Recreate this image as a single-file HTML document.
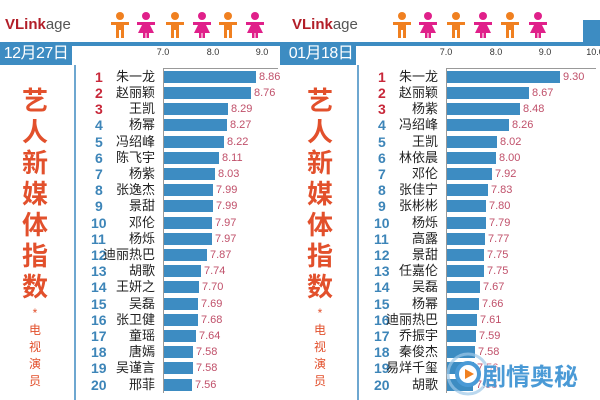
<!DOCTYPE html>
<html><head><meta charset="utf-8"><style>
body{margin:0;width:600px;height:400px;overflow:hidden;background:#fff;font-family:"Liberation Sans","Noto Sans CJK SC",sans-serif;position:relative}
.a{position:absolute}
.logo{font-size:15px;font-weight:bold;color:#b21e28;top:16px}
.logo span{font-weight:normal;color:#555}
.date{background:#3d8cc2;color:#fff;font-size:16px;height:23px;line-height:23px;top:42px;text-align:center;white-space:nowrap;letter-spacing:-0.5px;overflow:hidden}
.bar{background:#3d8cc2;height:4px;top:42px}
.vl{background:#6ea7d0;width:2px;top:65px;height:335px}
.big{color:#e2502c;font-size:26px;width:40px;text-align:center;line-height:31px;top:86px;font-weight:bold}
.small{color:#e2502c;font-size:12px;width:40px;text-align:center;line-height:17px;top:305px}
.tk{font-size:9px;color:#333;top:47px;width:30px;text-align:center}
.ax{background:#999;height:1px;top:68px}
.ay{background:#999;width:1px;top:68px;height:325px}
.r{position:absolute;height:16px;font-size:13px;line-height:16px}
.r .n{position:absolute;width:22px;font-weight:bold;color:#3d85b8;font-size:14px}
.r .n.t{color:#c8283a}
.r .m{position:absolute;width:70px;text-align:right;color:#222}
.r .b{position:absolute;top:2px;height:12px;background:#3d8cc2}
.r .v{position:absolute;color:#c0506a;font-size:11px}
</style></head><body>
<div class="a logo" style="left:5px">VLink<span>age</span></div>
<div class="a logo" style="left:292px">VLink<span>age</span></div>
<svg class="a" style="left:0;top:0" width="600" height="42">
<defs>
<g id="bo" fill="#f08020"><circle cx="0" cy="4" r="4"/><path d="M-9 10 L9 10 L9 13 L4 13 L4 26 L1 26 L1 18 L-1 18 L-1 26 L-4 26 L-4 13 L-9 13Z"/></g>
<g id="gi" fill="#e0208a"><circle cx="0" cy="4" r="4"/><path d="M-9 10 L9 10 L9 13 L4 13 L8 21 L3 21 L3 26 L0.5 26 L0.5 21 L-0.5 21 L-0.5 26 L-3 26 L-3 21 L-8 21 L-4 13 L-9 13Z"/></g>
</defs>
<use href="#bo" x="120" y="12"/><use href="#gi" x="146" y="12"/><use href="#bo" x="175" y="12"/><use href="#gi" x="202" y="12"/><use href="#bo" x="228" y="12"/><use href="#gi" x="255" y="12"/>
<use href="#bo" x="402" y="12"/><use href="#gi" x="428" y="12"/><use href="#bo" x="456" y="12"/><use href="#gi" x="483" y="12"/><use href="#bo" x="510" y="12"/><use href="#gi" x="538" y="12"/>
</svg>
<div class="a" style="left:583px;top:20px;width:17px;height:22px;background:#3d8cc2"></div>
<div class="a bar" style="left:0;width:600px"></div>
<div class="a date" style="left:0;width:72px">12月27日</div>
<div class="a date" style="left:286px;width:70px">01月18日</div>
<div class="a" style="left:280px;top:46px;width:8px;height:19px;background:#3d8cc2"></div>
<div class="a vl" style="left:74px"></div>
<div class="a vl" style="left:357px"></div>
<div class="a big" style="left:15px">艺<br>人<br>新<br>媒<br>体<br>指<br>数</div>
<div class="a small" style="left:15px">*<br>电<br>视<br>演<br>员</div>
<div class="a big" style="left:300px">艺<br>人<br>新<br>媒<br>体<br>指<br>数</div>
<div class="a small" style="left:300px">*<br>电<br>视<br>演<br>员</div>
<div class="a tk" style="left:148px">7.0</div><div class="a tk" style="left:198px">8.0</div><div class="a tk" style="left:247px">9.0</div>
<div class="a tk" style="left:431px">7.0</div><div class="a tk" style="left:481px">8.0</div><div class="a tk" style="left:530px">9.0</div><div class="a tk" style="left:580px">10.0</div>
<div class="a ax" style="left:163px;width:115px"></div><div class="a ay" style="left:163px"></div>
<div class="a ax" style="left:446px;width:150px"></div><div class="a ay" style="left:446px"></div>

<div style="position:absolute;left:0;top:0">
<div class="r" style="top:69px"><span class="n t" style="left:95px">1</span><span class="m" style="left:85px">朱一龙</span><span class="b" style="left:164px;width:92px"></span><span class="v" style="left:259px">8.86</span></div>
<div class="r" style="top:85px"><span class="n t" style="left:95px">2</span><span class="m" style="left:85px">赵丽颖</span><span class="b" style="left:164px;width:87px"></span><span class="v" style="left:254px">8.76</span></div>
<div class="r" style="top:101px"><span class="n t" style="left:95px">3</span><span class="m" style="left:85px">王凯</span><span class="b" style="left:164px;width:64px"></span><span class="v" style="left:231px">8.29</span></div>
<div class="r" style="top:117px"><span class="n" style="left:95px">4</span><span class="m" style="left:85px">杨幂</span><span class="b" style="left:164px;width:63px"></span><span class="v" style="left:230px">8.27</span></div>
<div class="r" style="top:134px"><span class="n" style="left:95px">5</span><span class="m" style="left:85px">冯绍峰</span><span class="b" style="left:164px;width:60px"></span><span class="v" style="left:227px">8.22</span></div>
<div class="r" style="top:150px"><span class="n" style="left:95px">6</span><span class="m" style="left:85px">陈飞宇</span><span class="b" style="left:164px;width:55px"></span><span class="v" style="left:222px">8.11</span></div>
<div class="r" style="top:166px"><span class="n" style="left:95px">7</span><span class="m" style="left:85px">杨紫</span><span class="b" style="left:164px;width:51px"></span><span class="v" style="left:218px">8.03</span></div>
<div class="r" style="top:182px"><span class="n" style="left:95px">8</span><span class="m" style="left:85px">张逸杰</span><span class="b" style="left:164px;width:49px"></span><span class="v" style="left:216px">7.99</span></div>
<div class="r" style="top:198px"><span class="n" style="left:95px">9</span><span class="m" style="left:85px">景甜</span><span class="b" style="left:164px;width:49px"></span><span class="v" style="left:216px">7.99</span></div>
<div class="r" style="top:215px"><span class="n" style="left:91px">10</span><span class="m" style="left:85px">邓伦</span><span class="b" style="left:164px;width:48px"></span><span class="v" style="left:215px">7.97</span></div>
<div class="r" style="top:231px"><span class="n" style="left:91px">11</span><span class="m" style="left:85px">杨烁</span><span class="b" style="left:164px;width:48px"></span><span class="v" style="left:215px">7.97</span></div>
<div class="r" style="top:247px"><span class="n" style="left:91px">12</span><span class="m" style="left:85px">迪丽热巴</span><span class="b" style="left:164px;width:43px"></span><span class="v" style="left:210px">7.87</span></div>
<div class="r" style="top:263px"><span class="n" style="left:91px">13</span><span class="m" style="left:85px">胡歌</span><span class="b" style="left:164px;width:37px"></span><span class="v" style="left:204px">7.74</span></div>
<div class="r" style="top:279px"><span class="n" style="left:91px">14</span><span class="m" style="left:85px">王妍之</span><span class="b" style="left:164px;width:35px"></span><span class="v" style="left:202px">7.70</span></div>
<div class="r" style="top:296px"><span class="n" style="left:91px">15</span><span class="m" style="left:85px">吴磊</span><span class="b" style="left:164px;width:34px"></span><span class="v" style="left:201px">7.69</span></div>
<div class="r" style="top:312px"><span class="n" style="left:91px">16</span><span class="m" style="left:85px">张卫健</span><span class="b" style="left:164px;width:34px"></span><span class="v" style="left:201px">7.68</span></div>
<div class="r" style="top:328px"><span class="n" style="left:91px">17</span><span class="m" style="left:85px">童瑶</span><span class="b" style="left:164px;width:32px"></span><span class="v" style="left:199px">7.64</span></div>
<div class="r" style="top:344px"><span class="n" style="left:91px">18</span><span class="m" style="left:85px">唐嫣</span><span class="b" style="left:164px;width:29px"></span><span class="v" style="left:196px">7.58</span></div>
<div class="r" style="top:360px"><span class="n" style="left:91px">19</span><span class="m" style="left:85px">吴谨言</span><span class="b" style="left:164px;width:29px"></span><span class="v" style="left:196px">7.58</span></div>
<div class="r" style="top:377px"><span class="n" style="left:91px">20</span><span class="m" style="left:85px">邢菲</span><span class="b" style="left:164px;width:28px"></span><span class="v" style="left:195px">7.56</span></div>
</div>

<div style="position:absolute;left:283px;top:0">
<div class="r" style="top:69px"><span class="n t" style="left:95px">1</span><span class="m" style="left:85px">朱一龙</span><span class="b" style="left:164px;width:113px"></span><span class="v" style="left:280px">9.30</span></div>
<div class="r" style="top:85px"><span class="n t" style="left:95px">2</span><span class="m" style="left:85px">赵丽颖</span><span class="b" style="left:164px;width:82px"></span><span class="v" style="left:249px">8.67</span></div>
<div class="r" style="top:101px"><span class="n t" style="left:95px">3</span><span class="m" style="left:85px">杨紫</span><span class="b" style="left:164px;width:73px"></span><span class="v" style="left:240px">8.48</span></div>
<div class="r" style="top:117px"><span class="n" style="left:95px">4</span><span class="m" style="left:85px">冯绍峰</span><span class="b" style="left:164px;width:62px"></span><span class="v" style="left:229px">8.26</span></div>
<div class="r" style="top:134px"><span class="n" style="left:95px">5</span><span class="m" style="left:85px">王凯</span><span class="b" style="left:164px;width:50px"></span><span class="v" style="left:217px">8.02</span></div>
<div class="r" style="top:150px"><span class="n" style="left:95px">6</span><span class="m" style="left:85px">林依晨</span><span class="b" style="left:164px;width:49px"></span><span class="v" style="left:216px">8.00</span></div>
<div class="r" style="top:166px"><span class="n" style="left:95px">7</span><span class="m" style="left:85px">邓伦</span><span class="b" style="left:164px;width:45px"></span><span class="v" style="left:212px">7.92</span></div>
<div class="r" style="top:182px"><span class="n" style="left:95px">8</span><span class="m" style="left:85px">张佳宁</span><span class="b" style="left:164px;width:41px"></span><span class="v" style="left:208px">7.83</span></div>
<div class="r" style="top:198px"><span class="n" style="left:95px">9</span><span class="m" style="left:85px">张彬彬</span><span class="b" style="left:164px;width:39px"></span><span class="v" style="left:206px">7.80</span></div>
<div class="r" style="top:215px"><span class="n" style="left:91px">10</span><span class="m" style="left:85px">杨烁</span><span class="b" style="left:164px;width:39px"></span><span class="v" style="left:206px">7.79</span></div>
<div class="r" style="top:231px"><span class="n" style="left:91px">11</span><span class="m" style="left:85px">高露</span><span class="b" style="left:164px;width:38px"></span><span class="v" style="left:205px">7.77</span></div>
<div class="r" style="top:247px"><span class="n" style="left:91px">12</span><span class="m" style="left:85px">景甜</span><span class="b" style="left:164px;width:37px"></span><span class="v" style="left:204px">7.75</span></div>
<div class="r" style="top:263px"><span class="n" style="left:91px">13</span><span class="m" style="left:85px">任嘉伦</span><span class="b" style="left:164px;width:37px"></span><span class="v" style="left:204px">7.75</span></div>
<div class="r" style="top:279px"><span class="n" style="left:91px">14</span><span class="m" style="left:85px">吴磊</span><span class="b" style="left:164px;width:33px"></span><span class="v" style="left:200px">7.67</span></div>
<div class="r" style="top:296px"><span class="n" style="left:91px">15</span><span class="m" style="left:85px">杨幂</span><span class="b" style="left:164px;width:32px"></span><span class="v" style="left:199px">7.66</span></div>
<div class="r" style="top:312px"><span class="n" style="left:91px">16</span><span class="m" style="left:85px">迪丽热巴</span><span class="b" style="left:164px;width:30px"></span><span class="v" style="left:197px">7.61</span></div>
<div class="r" style="top:328px"><span class="n" style="left:91px">17</span><span class="m" style="left:85px">乔振宇</span><span class="b" style="left:164px;width:29px"></span><span class="v" style="left:196px">7.59</span></div>
<div class="r" style="top:344px"><span class="n" style="left:91px">18</span><span class="m" style="left:85px">秦俊杰</span><span class="b" style="left:164px;width:28px"></span><span class="v" style="left:195px">7.58</span></div>
<div class="r" style="top:360px"><span class="n" style="left:91px">19</span><span class="m" style="left:85px">易烊千玺</span><span class="b" style="left:164px;width:27px"></span><span class="v" style="left:194px">7.56</span></div>
<div class="r" style="top:377px"><span class="n" style="left:91px">20</span><span class="m" style="left:85px">胡歌</span><span class="b" style="left:164px;width:26px"></span><span class="v" style="left:193px">7.53</span></div>
</div>

<svg class="a" style="left:446px;top:350px" width="50" height="50"><circle cx="22" cy="24" r="20" fill="none" stroke="#9cc8e8" stroke-width="3" opacity="0.7"/><circle cx="22" cy="24" r="11" fill="#fff" stroke="#4a9ad6" stroke-width="4"/><path d="M19 19 L28 24 L19 29Z" fill="#f08020"/></svg>
<div class="a" style="left:482px;top:357px;font-size:24px;font-weight:bold;color:#4a9ad6;text-shadow:0 0 3px #fff">剧情奥秘</div>
</body></html>
